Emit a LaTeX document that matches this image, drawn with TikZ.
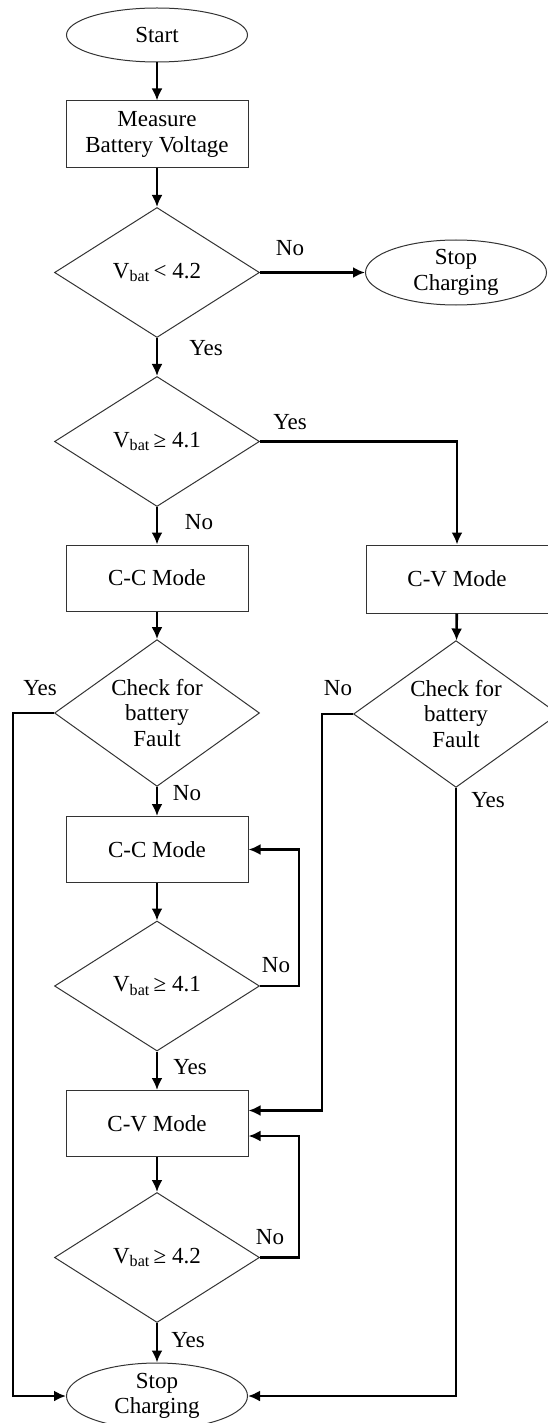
\documentclass[tikz,border=0pt]{standalone}
\usepackage{fontspec}
\setmainfont{Liberation Serif}
\usetikzlibrary{arrows.meta,shapes.geometric}
\definecolor{outline}{HTML}{333333}
\tikzset{proc/.style={draw=outline,line width=1pt,minimum width=182pt,minimum height=66pt,align=center,inner sep=0pt},term/.style={draw=outline,ellipse,line width=1pt,minimum width=181pt,minimum height=65pt,align=center,inner sep=0pt},test/.style={draw=outline,diamond,line width=1pt,minimum width=205pt,minimum height=130pt,align=center,inner sep=-3pt},flow/.style={-{Latex[length=12pt,width=11pt]},line width=2.6pt},tag/.style={inner sep=0pt}}

\begin{document}
\begin{tikzpicture}[x=1pt,y=-1pt,font=\fontsize{23}{25.5}\selectfont]
\useasboundingbox (0,0) rectangle (547,1423);
\node[term,minimum height=54pt] (start) at (157,35) {Start};
\node[proc,minimum height=67pt] (meas) at (157,134.5) {Measure\\Battery Voltage};
\node[test] (vlow) at (157,272.5) {V\textsubscript{bat}\,< 4.2};
\node[term] (stopa) at (456,272.5) {Stop\\Charging};
\node[test] (vcc) at (157,441.5) {V\textsubscript{bat}\,≥ 4.1};
\node[proc] (cca) at (157,578) {C-C Mode};
\node[proc,minimum height=68pt] (cva) at (457,579) {C-V Mode};
\node[test] (faulta) at (157,713) {Check for\\battery\\Fault};
\node[test] (faultb) at (456,714) {Check for\\battery\\Fault};
\node[proc] (ccb) at (157,849.5) {C-C Mode};
\node[test] (vccb) at (157,986) {V\textsubscript{bat}\,≥ 4.1};
\node[proc] (cvb) at (157,1123.5) {C-V Mode};
\node[test] (vcv) at (157,1257.5) {V\textsubscript{bat}\,≥ 4.2};
\node[term,minimum height=66pt] (stopb) at (157,1396) {Stop\\Charging};
\draw[flow] (start) -- (meas);
\draw[flow] (meas) -- (vlow);
\draw[flow] (vlow) -- (stopa);
\draw[flow] (vlow) -- (vcc);
\draw[flow] (vcc) -| (cva);
\draw[flow] (vcc) -- (cca);
\draw[flow] (cca) -- (faulta);
\draw[flow] (cva) -- (faultb);
\draw[flow] (faulta) -- (ccb);
\draw[flow] (ccb) -- (vccb);
\draw[flow] (vccb) -- (cvb);
\draw[flow] (cvb) -- (vcv);
\draw[flow] (vcv) -- (stopb);
\draw[flow] (faulta.west) -- ++(-41,0) |- (stopb.west);
\draw[flow] (faultb.west) -- ++(-31,0) |- ([yshift=13pt]cvb.east);
\draw[flow] (faultb.south) |- (stopb.east);
\draw[flow] (vccb.east) -- ++(39,0) |- (ccb.east);
\draw[flow] (vcv.east) -- ++(39,0) |- ([yshift=-12.5pt]cvb.east);
\foreach \x/\y/\t [count=\i] in {290/248/No,206/348/Yes,290/422/Yes,199/522/No,40/688/Yes,338/688/No,187/793/No,488/800/Yes,276/965/No,190/1067/Yes,270/1237/No,188/1340/Yes}
  \node[tag] (tag\i) at (\x,\y) {\t};
\end{tikzpicture}
\end{document}
